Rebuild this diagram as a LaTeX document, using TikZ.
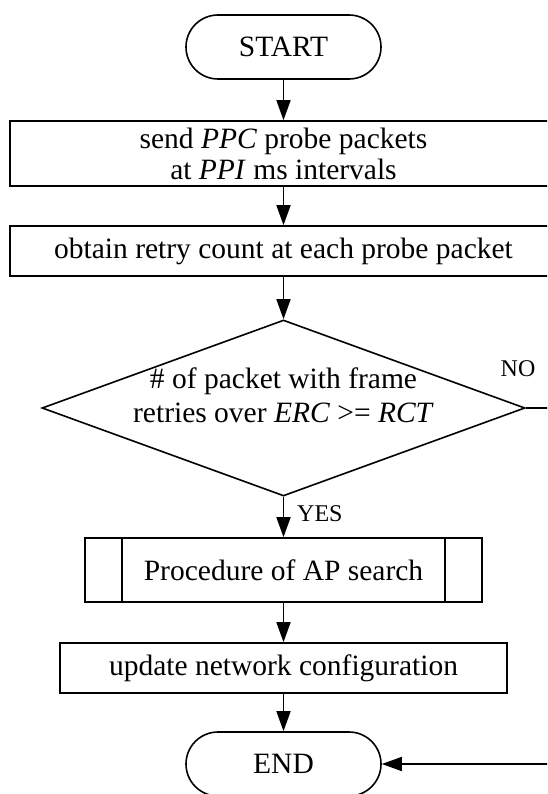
\documentclass[tikz,border=0pt]{standalone}
\usepackage{fontspec}
\setmainfont{Liberation Serif}
\usetikzlibrary{shapes.geometric,arrows.meta}
\begin{document}
\begin{tikzpicture}[x=1pt,y=-1pt,
  every node/.style={font=\fontsize{29.5}{31}\selectfont, inner sep=0pt},
  line/.style={line width=1.6pt},
  box/.style={draw, line width=1.6pt, rectangle, align=center},
  term/.style={draw, line width=1.6pt, rounded corners=32pt, minimum width=195pt, minimum height=64pt},
  arr/.style={line width=1.6pt, -{Triangle[length=20pt,width=14pt]}},
  lbl/.style={font=\fontsize{24}{28}\selectfont}
]
\path[use as bounding box] (0,0) rectangle (547,794);
\clip (0,0) rectangle (547,794);

\node[term] (start) at (283.5,47) {START};
\node[box, minimum width=547pt, minimum height=65pt] (send) at (283.5,153.5)
  {send \textit{PPC} probe packets\\at \textit{PPI} ms intervals};
\node[box, minimum width=547pt, minimum height=50pt] (obtain) at (283.5,251)
  {obtain retry count at each probe packet};
\node[draw, line width=1.6pt, diamond, minimum width=483pt, minimum height=176pt] (dec) at (283.5,408) {};
\node[align=center, font=\fontsize{29.5}{34}\selectfont] (dectext) at (283.5,395)
  {\# of packet with frame\\retries over \textit{ERC} >= \textit{RCT}};
\node[box, minimum width=397pt, minimum height=64pt] (proc) at (283.5,570) {Procedure of AP search};
\draw[line] ([xshift=38pt]proc.north west) -- ([xshift=38pt]proc.south west);
\draw[line] ([xshift=-38pt]proc.north east) -- ([xshift=-38pt]proc.south east);
\node[box, minimum width=447pt, minimum height=50pt] (update) at (283.5,668) {update network configuration};
\node[term] (end) at (283.5,764) {END};

\coordinate (r1) at (565,408);
\coordinate (r2) at (565,764);

\draw[arr] (start) -- (send);
\draw[arr] (send) -- (obtain);
\draw[arr] (obtain) -- (dec.north);
\draw[arr] (dec.south) -- (proc);
\draw[arr] (proc) -- (update);
\draw[arr] (update) -- (end);
\draw[arr] (dec.east) -- (r1) -- (r2) -- (end.east);

\node[lbl, anchor=west] (yes) at (297,514) {YES};
\node[lbl] (no) at (518,369) {NO};
\end{tikzpicture}
\end{document}
